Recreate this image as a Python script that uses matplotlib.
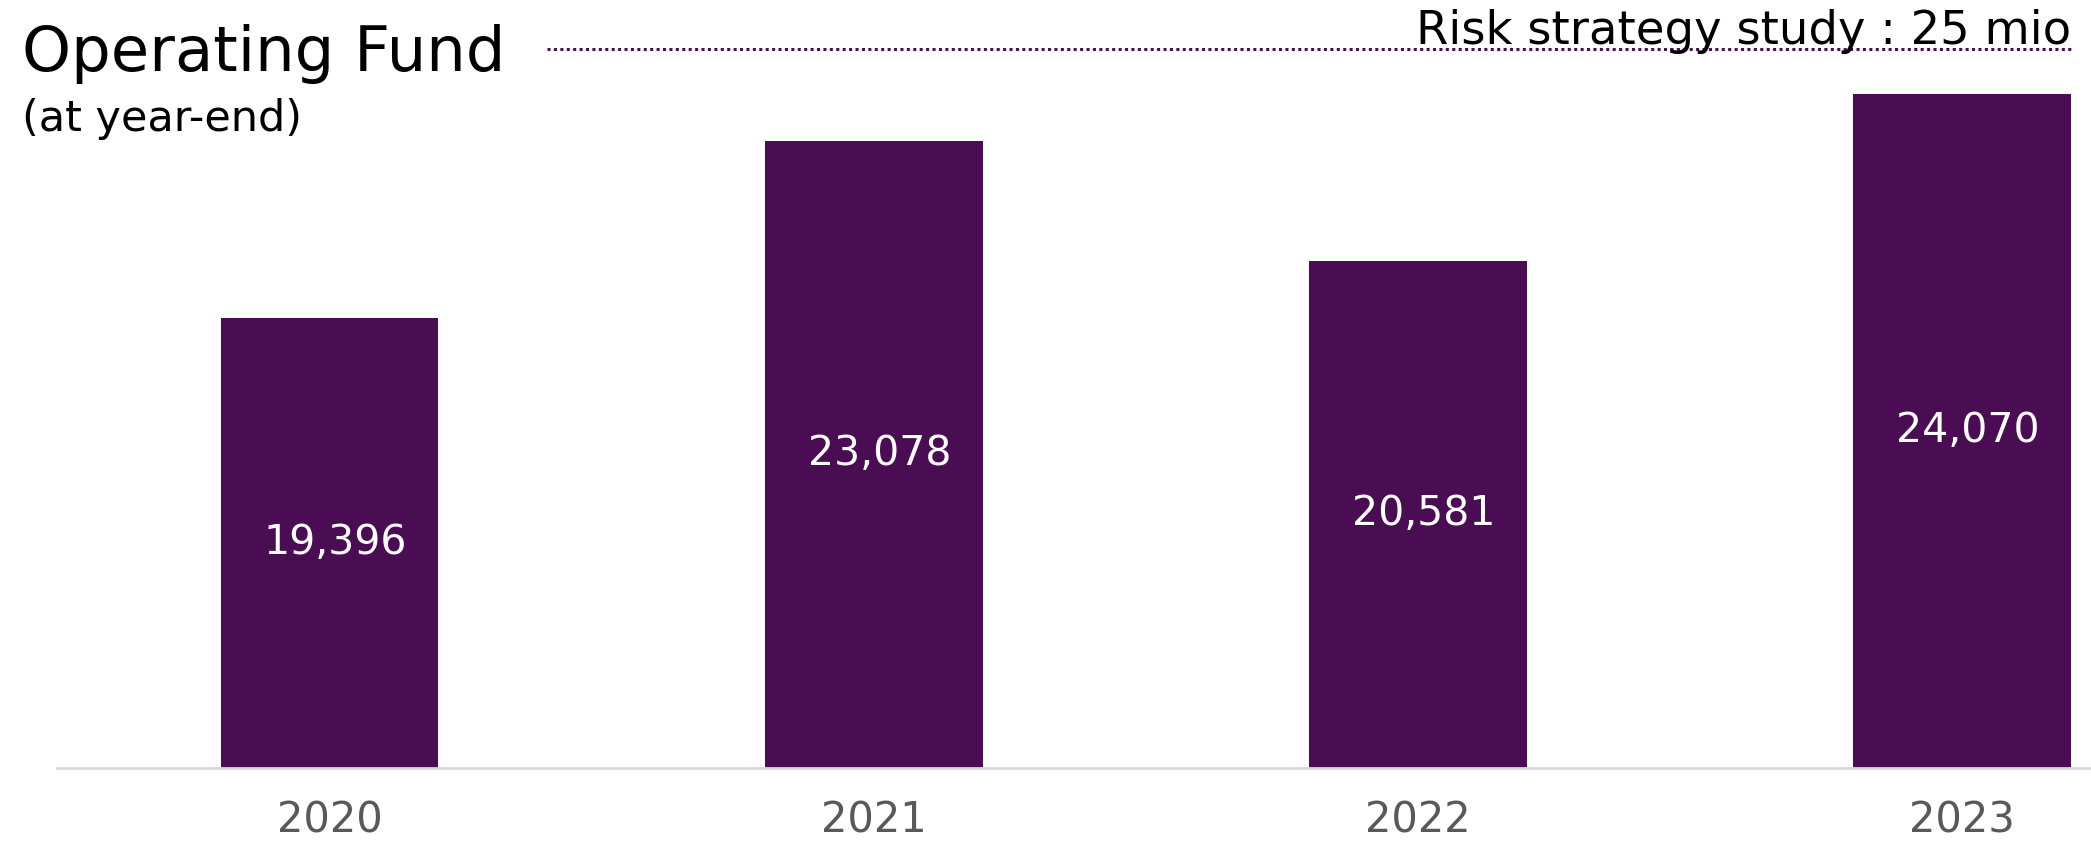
import matplotlib
matplotlib.use("Agg")
import matplotlib.pyplot as plt

years = ["2020", "2021", "2022", "2023"]
fund = [19396, 23078, 20581, 24070]
risk_target = 25000
risk_label = "Risk strategy study : 25 mio"

purple = "#4a0c53"
W, H = 2091, 842

plt.rcParams['font.family'] = ['DejaVu Sans']

fig = plt.figure(figsize=(W / 100, H / 100), dpi=100)
ax = fig.add_axes([57 / W, (H - 767.7) / H, 1 - 57 / W, 767.7 / H])

x = range(len(years))
ax.bar(x, fund, width=0.4, color=purple, zorder=2)
ax.set_xlim(-0.501, 3.2365)
ax.set_ylim(10000, 10000 + 767.7 / 0.0479)

for i, v in enumerate(fund):
    ax.text(i + 0.01, (10000 + v) / 2, f"{v:,}", ha="center", va="center",
            color="white", fontsize=29.5)

# dotted reference line for the risk study
ax.hlines(risk_target, 0.4, 3.2, colors=purple, linestyles=(0, (1, 1.1)), lw=2.2)

ax.set_xticks(list(x))
ax.set_xticklabels(years, fontsize=30, color="#595959")
ax.tick_params(axis="x", length=0, pad=23)
ax.set_yticks([])
for s in ["top", "right", "left"]:
    ax.spines[s].set_visible(False)
ax.spines["bottom"].set_color("#d9d9d9")
ax.spines["bottom"].set_linewidth(2)
ax.patch.set_alpha(0)

fig.text(22 / W, 1 - 71 / H, "Operating Fund", fontsize=45, color="black", va="baseline")
fig.text(22 / W, 1 - 131 / H, "(at year-end)", fontsize=31, color="black", va="baseline")
fig.text(2071 / W, 1 - 44 / H, risk_label, fontsize=33.5, color="black",
         ha="right", va="baseline")

fig.savefig("out.png", dpi=100)
